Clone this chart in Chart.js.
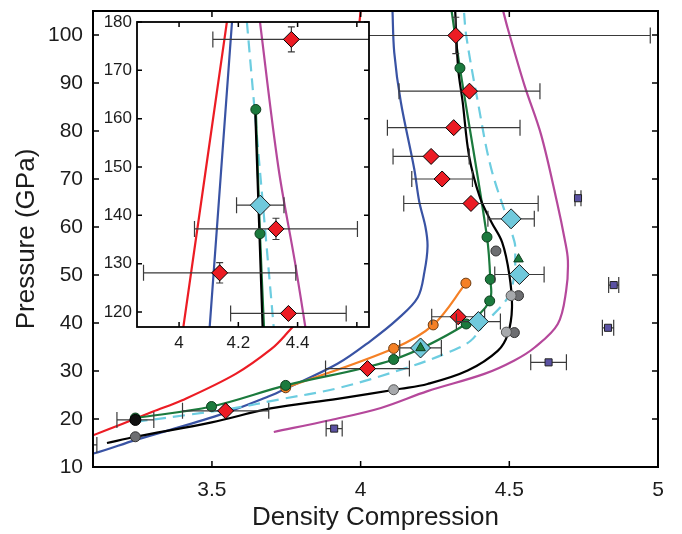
<!DOCTYPE html>
<html>
<head>
<meta charset="utf-8">
<title>Pressure vs density compression</title>
<script src="https://cdn.jsdelivr.net/npm/chart.js@4.4.1/dist/chart.umd.min.js"></script>
<style>
  body { margin: 0; background: #fff; }
  #wrap { position: relative; width: 682px; height: 534px; }
  #wrap canvas { position: absolute; left: 0; top: 0; }
  #insetChart { pointer-events: none; }
</style>
</head>
<body>
<div id="wrap">
  <canvas id="mainChart" width="682" height="534"></canvas>
  <canvas id="insetChart" width="682" height="534"></canvas>
</div>
<script>
// tick values
const mainXTicks = [3.5, 4, 4.5, 5];
const mainYTicks = [10, 20, 30, 40, 50, 60, 70, 80, 90, 100];
const insetXTicks = [4, 4.2, 4.4, 4.6];
const insetYTicks = [120, 130, 140, 150, 160, 170, 180];

// model curves, main panel (density compression, pressure in GPa)
const redX = [3.05, 3.1, 3.2, 3.3, 3.4, 3.58, 3.7, 3.75, 3.8, 3.86, 3.92, 3.96, 3.985, 4.0];
const redP = [15.4, 16.6, 19.0, 21.5, 23.9, 29.4, 34.6, 37.7, 41.5, 50, 64, 80, 96, 105];
const blueX = [3.05, 3.102, 3.242, 3.523, 3.698, 3.748, 3.922, 4.034, 4.124, 4.192, 4.215, 4.225, 4.218, 4.197, 4.18, 4.135, 4.113, 4.107];
const blueP = [12.4, 12.8, 15.6, 20.8, 24.9, 26.3, 31.5, 36.3, 40.8, 45.3, 50.8, 56.0, 60.0, 65.3, 72.2, 86.1, 96.4, 105.3];
const magentaX = [3.708, 3.9, 4.068, 4.225, 4.416, 4.517, 4.585, 4.663, 4.691, 4.697, 4.686, 4.661, 4.607, 4.551, 4.495, 4.478];
const magentaP = [17.3, 19.8, 22.3, 25.8, 29.4, 32.2, 34.9, 39.8, 46.7, 53.0, 57.5, 65.0, 79.2, 89.5, 101.3, 105.3];
const blackX = [3.147, 3.2425, 3.499, 3.697, 3.922, 4.135, 4.225, 4.36, 4.461, 4.495, 4.509, 4.5, 4.476, 4.44, 4.402, 4.365, 4.343, 4.328, 4.318];
const blackP = [15.0, 16.3, 19.3, 22.2, 24.2, 26.3, 27.3, 30.1, 34.2, 37.7, 43.2, 50.1, 56.8, 61.0, 66.0, 74.7, 86.1, 93.0, 105];
const greenX = [3.2425, 3.4986, 3.748, 4.111, 4.355, 4.434, 4.436, 4.425, 4.334, 4.306];
const greenP = [20.2, 22.6, 27.0, 32.4, 39.8, 44.6, 49.1, 57.9, 93.1, 105];
const orangeX = [3.748, 4.111, 4.244, 4.354];
const orangeP = [26.5, 34.7, 39.6, 48.3];
const cyanX = [3.2425, 3.411, 3.58, 3.72, 3.922, 4.147, 4.3, 4.37, 4.416, 4.495, 4.517, 4.52, 4.517, 4.439, 4.394, 4.355, 4.347];
const cyanP = [19.4, 20.8, 22.3, 24.0, 26.4, 30.5, 34.0, 36.3, 39.8, 45.3, 50.0, 54.3, 57.0, 72.2, 86.1, 99.9, 105.3];

// measured points, main panel
const greenDotX = [3.2425, 3.4986, 3.748, 4.111, 4.355, 4.434, 4.436, 4.425, 4.334];
const greenDotP = [20.2, 22.6, 27.0, 32.4, 39.8, 44.6, 49.1, 57.9, 93.1];
const greyLightX = [4.506, 4.49, 4.111];
const greyLightP = [45.7, 38.1, 26.1];
const greyDarkX = [4.455, 4.531, 4.517, 3.2425];
const greyDarkP = [55.0, 45.7, 38.0, 16.3];
const triX = [4.531, 4.2015];
const triP = [53.3, 34.8];
const blackDotX = [3.2425];
const blackDotP = [19.8];
const blackDotErr = [0.062];
const redDiaX = [4.32, 4.366, 4.313, 4.237, 4.274, 4.371, 4.328, 4.023, 3.546];
const redDiaP = [99.9, 88.3, 80.7, 74.7, 70.0, 64.9, 41.3, 30.5, 21.7];
const redDiaErr = [0.654, 0.237, 0.223, 0.128, 0.102, 0.226, 0.089, 0.141, 0.145];
const redDiaPErr = [3.8, 0, 0, 0, 0, 0, 0, 0, 0];
const cyanDiaX = [4.506, 4.534, 4.396, 4.2015, 3.02];
const cyanDiaP = [61.7, 50.1, 40.3, 34.8, 14.6];
const cyanDiaErr = [0.078, 0.083, 0.074, 0.07, 0.093];
const squareX = [4.731, 4.851, 4.832, 4.632, 3.911];
const squareP = [66.0, 47.9, 39.0, 31.8, 18.0];
const squareErr = [0.01, 0.017, 0.019, 0.06, 0.027];

// inset panel (high pressure)
const inRedX = [4.01, 4.166];
const inRedP = [115, 182];
const inBlueX = [4.101, 4.181];
const inBlueP = [115, 182];
const inMagentaX = [4.431, 4.392, 4.335, 4.269];
const inMagentaP = [115, 130, 150, 182];
const inCyanX = [4.322, 4.226];
const inCyanP = [115, 182];
const inBlackX = [4.283, 4.257];
const inBlackP = [115, 161.7];
const inGreenX = [4.288, 4.273, 4.259];
const inGreenP = [115, 136.2, 162];
const inGreenDotX = [4.259, 4.273];
const inGreenDotP = [161.9, 136.2];
const inRedDiaX = [4.379, 4.327, 4.137, 4.369];
const inRedDiaP = [176.4, 137.2, 128.1, 119.7];
const inRedDiaErr = [0.265, 0.275, 0.257, 0.195];
const inRedDiaPErr = [2.6, 2.2, 2.1, 0];
const inCyanDiaX = [4.274];
const inCyanDiaP = [142.1];
const inCyanDiaErr = [0.08];

const C = {
    red: '#ec1c24', blue: '#3953a4', magenta: '#b5489b', black: '#000000',
    green: '#1b7a3d', orange: '#f58025', cyan: '#6dcde0', cyanFill: '#70c9dc',
    greyLight: '#a7a9ac', greyDark: '#6d6e71', square: '#5b52a3'
};

Chart.defaults.font.family = "'Liberation Sans', Arial, Helvetica, sans-serif";
Chart.defaults.color = '#222';

function pts(xs, ps) {
    return xs.map((x, i) => ({ x: x, y: ps[i] }));
}

function curve(xs, ps, color, dash) {
    return {
        data: pts(xs, ps),
        showLine: true,
        borderColor: color,
        borderWidth: 2.2,
        borderDash: dash || [],
        pointRadius: 0,
        tension: 0.35,
        fill: false
    };
}

function marks(xs, ps, style, radius, fill, edge, xErr, pErr) {
    return {
        data: pts(xs, ps),
        showLine: false,
        pointStyle: style,
        pointRadius: radius,
        backgroundColor: fill,
        borderColor: edge,
        borderWidth: 1,
        xErr: xErr,
        pErr: pErr
    };
}

// horizontal / vertical error bars, drawn just before their own dataset
const errorBars = {
    id: 'errorBars',
    beforeDatasetDraw(chart, args, opts) {
        const ds = chart.data.datasets[args.index];
        if (!ds.xErr && !ds.pErr) return;
        const { ctx, chartArea: a, scales: { x, y } } = chart;
        ctx.save();
        ctx.beginPath();
        ctx.rect(a.left, a.top, a.right - a.left, a.bottom - a.top);
        ctx.clip();
        ctx.strokeStyle = '#3a3a3a';
        ctx.lineWidth = 1.2;
        ctx.beginPath();
        ds.data.forEach((p, i) => {
            const cx = x.getPixelForValue(p.x);
            const cy = y.getPixelForValue(p.y);
            const dx = ds.xErr ? ds.xErr[i] : 0;
            const dp = ds.pErr ? ds.pErr[i] : 0;
            if (dx) {
                const x0 = x.getPixelForValue(p.x - dx);
                const x1 = x.getPixelForValue(p.x + dx);
                ctx.moveTo(x0, cy); ctx.lineTo(x1, cy);
                ctx.moveTo(x0, cy - opts.cap); ctx.lineTo(x0, cy + opts.cap);
                ctx.moveTo(x1, cy - opts.cap); ctx.lineTo(x1, cy + opts.cap);
            }
            if (dp) {
                const y0 = y.getPixelForValue(p.y - dp);
                const y1 = y.getPixelForValue(p.y + dp);
                ctx.moveTo(cx, y0); ctx.lineTo(cx, y1);
                ctx.moveTo(cx - 3.5, y0); ctx.lineTo(cx + 3.5, y0);
                ctx.moveTo(cx - 3.5, y1); ctx.lineTo(cx + 3.5, y1);
            }
        });
        ctx.stroke();
        ctx.restore();
    }
};

// box round the plot with inward ticks on all four sides
const frame = {
    id: 'frame',
    beforeDraw(chart, args, opts) {
        if (!opts.fill) return;
        const { ctx, chartArea: a } = chart;
        ctx.save();
        ctx.fillStyle = opts.fill;
        ctx.fillRect(a.left, a.top, a.right - a.left, a.bottom - a.top);
        ctx.restore();
    },
    afterDraw(chart, args, opts) {
        const { ctx, chartArea: a, scales: { x, y } } = chart;
        const t = opts.tick;
        ctx.save();
        ctx.strokeStyle = '#000';
        ctx.lineWidth = 1.5;
        ctx.beginPath();
        x.ticks.forEach(tk => {
            const px = x.getPixelForValue(tk.value);
            ctx.moveTo(px, a.bottom); ctx.lineTo(px, a.bottom - t);
            ctx.moveTo(px, a.top); ctx.lineTo(px, a.top + t);
        });
        y.ticks.forEach(tk => {
            const py = y.getPixelForValue(tk.value);
            ctx.moveTo(a.left, py); ctx.lineTo(a.left + t, py);
            ctx.moveTo(a.right, py); ctx.lineTo(a.right - t, py);
        });
        ctx.stroke();
        ctx.lineWidth = opts.width;
        ctx.strokeRect(a.left, a.top, a.right - a.left, a.bottom - a.top);
        ctx.restore();
    }
};

function axis(min, max, tickList, fontSize, pad, fit, title, titlePad) {
    const horizontal = fit.height !== undefined;
    return {
        type: 'linear',
        min: min,
        max: max,
        grid: { display: false, drawTicks: false },
        border: { display: false },
        ticks: {
            font: { size: fontSize },
            color: '#1c1c1c',
            padding: pad,
            autoSkip: false,
            maxRotation: 0,
            callback: v => (tickList.labelled && !tickList.labelled.includes(v) ? '' : String(v))
        },
        afterBuildTicks: s => { s.ticks = tickList.values.map(v => ({ value: v })); },
        afterFit: s => {
            if (horizontal) s.height = fit.height; else s.width = fit.width;
            // the layout padding already leaves room for the end labels
            s.paddingTop = 0; s.paddingBottom = 0; s.paddingLeft = 0; s.paddingRight = 0;
        },
        title: {
            display: !!title,
            text: title || '',
            color: '#1c1c1c',
            font: { size: 26 },
            padding: titlePad || 0
        }
    };
}

// main panel
new Chart(document.getElementById('mainChart'), {
    type: 'scatter',
    data: {
        datasets: [
            marks(triX, triP, 'triangle', 5.5, C.green, '#0d3d1d'),
            marks(blackDotX, blackDotP, 'circle', 5.5, '#111', '#000', blackDotErr),
            marks(cyanDiaX, cyanDiaP, 'rectRot', 10, C.cyanFill, '#1a1a1a', cyanDiaErr),
            marks(redDiaX, redDiaP, 'rectRot', 8, C.red, '#000', redDiaErr, redDiaPErr),
            marks(greenDotX, greenDotP, 'circle', 5, C.green, '#0d3d1d'),
            marks(orangeX, orangeP, 'circle', 5, C.orange, '#6b3a10'),
            marks(greyLightX, greyLightP, 'circle', 5, C.greyLight, '#555'),
            marks(greyDarkX, greyDarkP, 'circle', 5, C.greyDark, '#333'),
            marks(squareX, squareP, 'rect', 5, C.square, '#222', squareErr),
            curve(blackX, blackP, C.black),
            curve(greenX, greenP, C.green),
            curve(orangeX, orangeP, C.orange),
            curve(cyanX, cyanP, C.cyan, [12, 7]),
            curve(redX, redP, C.red),
            curve(blueX, blueP, C.blue),
            curve(magentaX, magentaP, C.magenta)
        ]
    },
    options: {
        responsive: false,
        animation: false,
        events: [],
        layout: { padding: { left: 0, top: 7, right: 24, bottom: 0 } },
        plugins: {
            legend: { display: false },
            tooltip: { enabled: false },
            errorBars: { cap: 8 },
            frame: { tick: 6, width: 2 }
        },
        scales: {
            x: axis(3.1, 5, { values: mainXTicks }, 21, 11, { height: 67 },
                'Density Compression', { top: 0, bottom: 1 }),
            y: axis(10, 105, { values: mainYTicks }, 21, 10, { width: 93 },
                'Pressure (GPa)', { top: 11.5, bottom: 0 })
        }
    },
    plugins: [errorBars, frame]
});

// inset panel
new Chart(document.getElementById('insetChart'), {
    type: 'scatter',
    data: {
        datasets: [
            marks(inCyanDiaX, inCyanDiaP, 'rectRot', 10, C.cyanFill, '#1a1a1a', inCyanDiaErr),
            marks(inRedDiaX, inRedDiaP, 'rectRot', 8, C.red, '#000', inRedDiaErr, inRedDiaPErr),
            marks(inGreenDotX, inGreenDotP, 'circle', 5, C.green, '#0d3d1d'),
            curve(inBlackX, inBlackP, C.black),
            curve(inGreenX, inGreenP, C.green),
            curve(inCyanX, inCyanP, C.cyan, [12, 7]),
            curve(inRedX, inRedP, C.red),
            curve(inBlueX, inBlueP, C.blue),
            curve(inMagentaX, inMagentaP, C.magenta)
        ]
    },
    options: {
        responsive: false,
        animation: false,
        events: [],
        layout: { padding: { left: 0, top: 22, right: 313, bottom: 0 } },
        plugins: {
            legend: { display: false },
            tooltip: { enabled: false },
            errorBars: { cap: 8 },
            frame: { tick: 5, width: 1.8, fill: '#ffffff' }
        },
        scales: {
            x: axis(3.858, 4.641, { values: insetXTicks, labelled: [4, 4.2, 4.4] }, 17, 6, { height: 207 }),
            y: axis(116.9, 180, { values: insetYTicks }, 17, 5, { width: 137 })
        }
    },
    plugins: [errorBars, frame]
});
</script>
</body>
</html>
